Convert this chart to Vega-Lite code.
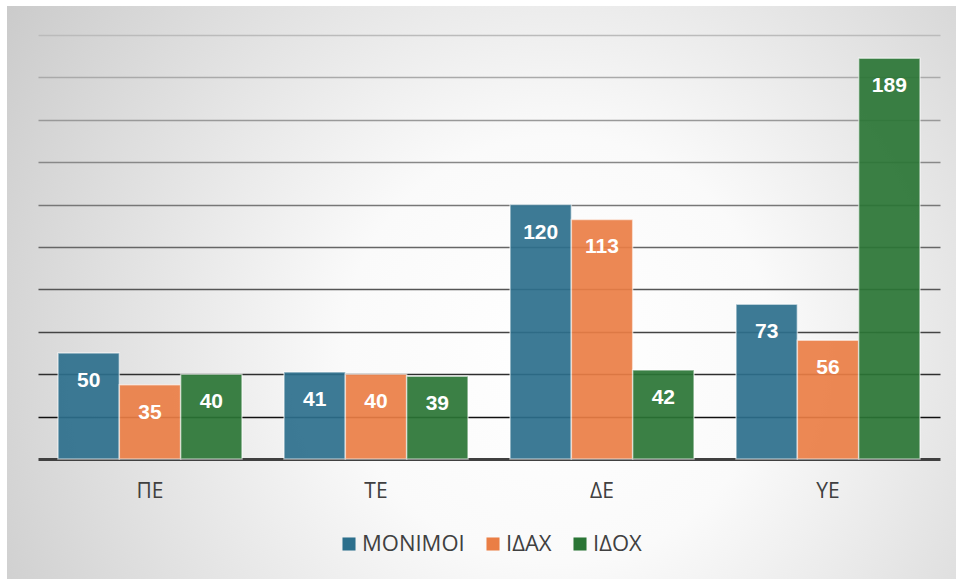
{
  "$schema": "https://vega.github.io/schema/vega-lite/v6.json",
  "width": 949,
  "height": 573,
  "autosize": {"type": "none"},
  "padding": {"left": 7, "top": 6, "right": 0, "bottom": 0},
  "background": "#ffffff",
  "config": {
    "view": {
      "stroke": null,
      "fill": {
        "gradient": "radial",
        "x1": 0.58, "y1": 0.56, "r1": 0,
        "x2": 0.58, "y2": 0.56, "r2": 0.75,
        "stops": [
          {"offset": 0, "color": "#ffffff"},
          {"offset": 0.3, "color": "#fafafa"},
          {"offset": 1, "color": "#c4c4c4"}
        ]
      }
    }
  },
  "data": {
    "values": [
      {"cat": "ΠΕ", "series": "ΜΟΝΙΜΟΙ", "value": 50},
      {"cat": "ΠΕ", "series": "ΙΔΑΧ", "value": 35},
      {"cat": "ΠΕ", "series": "ΙΔΟΧ", "value": 40},
      {"cat": "ΤΕ", "series": "ΜΟΝΙΜΟΙ", "value": 41},
      {"cat": "ΤΕ", "series": "ΙΔΑΧ", "value": 40},
      {"cat": "ΤΕ", "series": "ΙΔΟΧ", "value": 39},
      {"cat": "ΔΕ", "series": "ΜΟΝΙΜΟΙ", "value": 120},
      {"cat": "ΔΕ", "series": "ΙΔΑΧ", "value": 113},
      {"cat": "ΔΕ", "series": "ΙΔΟΧ", "value": 42},
      {"cat": "ΥΕ", "series": "ΜΟΝΙΜΟΙ", "value": 73},
      {"cat": "ΥΕ", "series": "ΙΔΑΧ", "value": 56},
      {"cat": "ΥΕ", "series": "ΙΔΟΧ", "value": 189}
    ]
  },
  "encoding": {
    "x": {
      "field": "cat",
      "type": "nominal",
      "sort": ["ΠΕ", "ΤΕ", "ΔΕ", "ΥΕ"],
      "scale": {"range": [31, 933], "paddingInner": 0.186, "paddingOuter": 0.0885},
      "axis": {
        "title": null,
        "orient": "bottom",
        "offset": -88,
        "domain": false,
        "ticks": false,
        "tickSize": 0,
        "grid": false,
        "labelPadding": 0,
        "labelBaseline": "middle",
        "labelAngle": 0,
        "labelFont": "Open Sans",
        "labelFontSize": 21,
        "labelColor": "#404040"
      }
    },
    "xOffset": {
      "field": "series",
      "type": "nominal",
      "sort": ["ΜΟΝΙΜΟΙ", "ΙΔΑΧ", "ΙΔΟΧ"],
      "scale": {"paddingInner": 0, "paddingOuter": 0}
    },
    "y": {
      "field": "value",
      "type": "quantitative",
      "scale": {"domain": [0, 200], "range": [453, 29], "nice": false, "zero": true},
      "axis": {
        "title": null,
        "labels": false,
        "ticks": false,
        "domain": false,
        "values": [0, 20, 40, 60, 80, 100, 120, 140, 160, 180, 200],
        "grid": true,
        "gridWidth": {"condition": {"test": "datum.value === 0", "value": 3}, "value": 1.5},
        "gridColor": {
          "condition": [
            {"test": "datum.value === 0", "value": "#404040"},
            {"test": "datum.value === 20", "value": "#111111"},
            {"test": "datum.value === 40", "value": "#2e2e2e"},
            {"test": "datum.value === 60", "value": "#444444"},
            {"test": "datum.value === 80", "value": "#555555"},
            {"test": "datum.value === 100", "value": "#666666"},
            {"test": "datum.value === 120", "value": "#777777"},
            {"test": "datum.value === 140", "value": "#888888"},
            {"test": "datum.value === 160", "value": "#999999"},
            {"test": "datum.value === 180", "value": "#aaaaaa"}
          ],
          "value": "#bbbbbb"
        }
      }
    }
  },
  "layer": [
    {
      "mark": {"type": "bar", "fillOpacity": 0.92, "stroke": "#ffffff", "strokeOpacity": 0.55, "strokeWidth": 1.5},
      "encoding": {
        "color": {
          "field": "series",
          "type": "nominal",
          "sort": ["ΜΟΝΙΜΟΙ", "ΙΔΑΧ", "ΙΔΟΧ"],
          "scale": {"domain": ["ΜΟΝΙΜΟΙ", "ΙΔΑΧ", "ΙΔΟΧ"], "range": ["#2c6f8c", "#ea7e45", "#2a7535"]},
          "legend": {
            "title": null,
            "orient": "none",
            "legendX": 331,
            "legendY": 527,
            "direction": "horizontal",
            "symbolType": "square",
            "symbolSize": 170,
            "symbolStrokeWidth": 0,
            "symbolOpacity": 1,
            "labelFont": "Open Sans",
            "labelFontSize": 22,
            "labelColor": "#404040",
            "labelOffset": 2,
            "columnPadding": 17
          }
        }
      }
    },
    {
      "mark": {"type": "text", "color": "#ffffff", "font": "Liberation Sans", "fontWeight": "bold", "fontSize": 21, "baseline": "middle", "dy": 28},
      "encoding": {"text": {"field": "value", "type": "quantitative"}}
    }
  ]
}
